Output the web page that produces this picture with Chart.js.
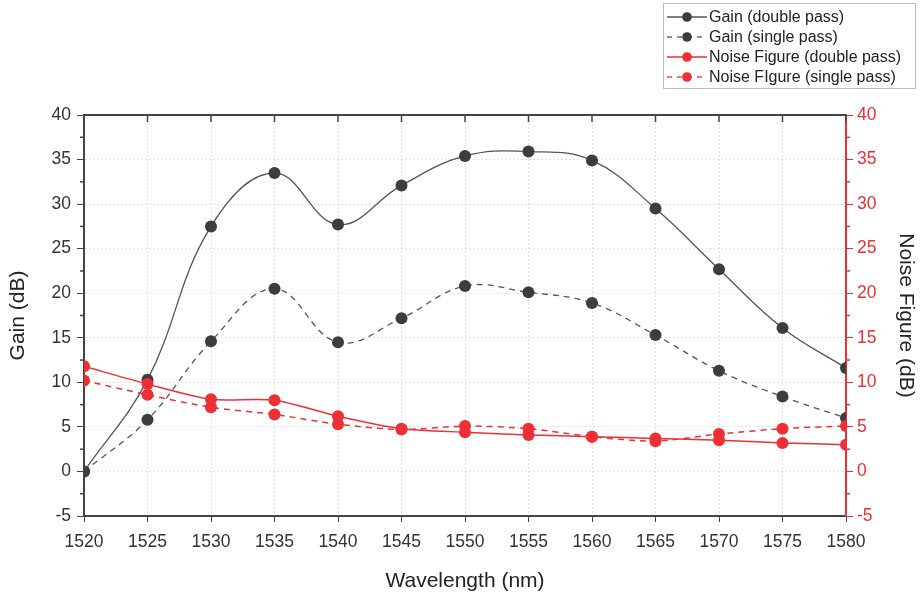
<!DOCTYPE html>
<html>
<head>
<meta charset="utf-8">
<script src="https://cdn.jsdelivr.net/npm/chart.js@4.4.0/dist/chart.umd.min.js"></script>
<style>
  html, body { margin: 0; padding: 0; background: #fff; }
  #wrap { width: 920px; height: 598px; }
</style>
</head>
<body>
<div id="wrap"><canvas id="c" width="920" height="598"></canvas></div>
<script>
// wavelength (nm)
const wavelengths = [1520, 1525, 1530, 1535, 1540, 1545, 1550, 1555, 1560, 1565, 1570, 1575, 1580];
// values (dB)
const gainDouble = [0, 10.3, 27.5, 33.5, 27.7, 32.1, 35.4, 35.9, 34.9, 29.5, 22.7, 16.1, 11.6];
const gainSingle = [0, 5.8, 14.6, 20.5, 14.5, 17.2, 20.8, 20.1, 18.9, 15.3, 11.3, 8.4, 6.0];
const nfDouble = [11.8, 9.8, 8.1, 8.0, 6.2, 4.8, 4.4, 4.1, 3.9, 3.7, 3.5, 3.2, 3.0];
const nfSingle = [10.2, 8.6, 7.2, 6.4, 5.3, 4.7, 5.1, 4.8, 3.9, 3.4, 4.2, 4.8, 5.1];
const legendLabels = ['Gain (double pass)', 'Gain (single pass)', 'Noise Figure (double pass)', 'Noise FIgure (single pass)'];

const GRAY = '#3d3d3d';
const RED = '#ee3035';
const FONT = "'Liberation Sans', Arial, sans-serif";

const toXY = ys => wavelengths.map((w, i) => ({x: w, y: ys[i]}));

// minor ticks, top-axis ticks and the legend box
const decorPlugin = {
    id: 'decor',
    afterDraw: chart => {
        const {ctx, chartArea: a, scales} = chart;
        const x = scales.x, yl = scales.y;
        ctx.save();
        // top axis line + inward ticks
        ctx.strokeStyle = '#444';
        ctx.lineWidth = 2;
        ctx.beginPath();
        ctx.moveTo(a.left, a.top);
        ctx.lineTo(a.right, a.top);
        ctx.stroke();
        ctx.lineWidth = 1.5;
        x.ticks.forEach(t => {
            const px = x.getPixelForValue(t.value);
            ctx.beginPath();
            ctx.moveTo(px, a.top);
            ctx.lineTo(px, a.top + 7);
            ctx.stroke();
        });
        // minor ticks on the y axes
        for (let v = -2.5; v < 40; v += 5) {
            const pl = yl.getPixelForValue(v);
            ctx.strokeStyle = '#444';
            ctx.beginPath();
            ctx.moveTo(a.left, pl);
            ctx.lineTo(a.left - 4, pl);
            ctx.stroke();
            ctx.strokeStyle = RED;
            ctx.beginPath();
            ctx.moveTo(a.right, pl);
            ctx.lineTo(a.right + 4, pl);
            ctx.stroke();
        }
        // legend
        const lx = 663, ly = 3, lw = 252, lh = 85;
        ctx.fillStyle = '#fff';
        ctx.fillRect(lx, ly, lw, lh);
        ctx.strokeStyle = '#bbb';
        ctx.lineWidth = 1;
        ctx.strokeRect(lx + 0.5, ly + 0.5, lw, lh);
        const styles = [
            {c: GRAY, lc: '#555', dash: []},
            {c: GRAY, lc: '#555', dash: [5, 5]},
            {c: RED, lc: RED, dash: []},
            {c: RED, lc: RED, dash: [5, 5]},
        ];
        ctx.font = '16px ' + FONT;
        ctx.textBaseline = 'middle';
        styles.forEach((s, i) => {
            const ry = 17 + i * 20;
            ctx.strokeStyle = s.lc;
            ctx.lineWidth = 1.3;
            ctx.setLineDash(s.dash);
            ctx.beginPath();
            ctx.moveTo(667, ry);
            ctx.lineTo(707, ry);
            ctx.stroke();
            ctx.setLineDash([]);
            ctx.fillStyle = s.c;
            ctx.beginPath();
            ctx.arc(687, ry, 4.8, 0, Math.PI * 2);
            ctx.fill();
            ctx.fillStyle = '#222';
            ctx.fillText(legendLabels[i], 709, ry + 1);
        });
        ctx.restore();
    }
};

const tickFont = {family: FONT, size: 17.5};
const titleFont = {family: FONT, size: 21};

new Chart(document.getElementById('c').getContext('2d'), {
    type: 'line',
    data: {
        datasets: [
            {label: legendLabels[0], data: toXY(gainDouble), borderColor: '#555', backgroundColor: GRAY,
             borderWidth: 1.3, tension: 0.4, pointRadius: 6, pointBorderWidth: 0, yAxisID: 'y', order: 2},
            {label: legendLabels[1], data: toXY(gainSingle), borderColor: '#555', backgroundColor: GRAY,
             borderWidth: 1.3, borderDash: [6, 5], tension: 0.4, pointRadius: 6, pointBorderWidth: 0, yAxisID: 'y', order: 2},
            {label: legendLabels[2], data: toXY(nfDouble), borderColor: RED, backgroundColor: RED,
             borderWidth: 1.5, tension: 0.25, pointRadius: 6, pointBorderWidth: 0, yAxisID: 'y2', order: 1},
            {label: legendLabels[3], data: toXY(nfSingle), borderColor: RED, backgroundColor: RED,
             borderWidth: 1.5, borderDash: [6, 5], tension: 0.25, pointRadius: 6, pointBorderWidth: 0, yAxisID: 'y2', order: 1},
        ]
    },
    options: {
        responsive: false,
        animation: false,
        events: [],
        layout: {padding: {top: 115, left: 0, right: 0, bottom: 0}},
        plugins: {legend: {display: false}, tooltip: {enabled: false}},
        scales: {
            x: {
                type: 'linear', min: 1520, max: 1580,
                ticks: {stepSize: 5, color: '#333', font: tickFont, padding: 10, maxRotation: 0,
                        callback: v => String(v)},
                grid: {color: '#e2e2e2', tickColor: '#444', tickLength: 6, lineWidth: 1},
                border: {color: '#444', width: 2, dash: [2, 2]},
                title: {display: true, text: 'Wavelength (nm)', color: '#222', font: titleFont, padding: {top: 4}},
                afterFit: s => { s.height = 82; }
            },
            y: {
                position: 'left', min: -5, max: 40,
                ticks: {stepSize: 5, color: '#333', font: tickFont, padding: 6},
                grid: {color: '#e2e2e2', tickColor: '#444', tickLength: 7, lineWidth: 1},
                border: {color: '#444', width: 2, dash: [2, 2]},
                title: {display: true, text: 'Gain (dB)', color: '#222', font: titleFont, padding: {top: 6, bottom: 2}},
                afterFit: s => { s.width = 84; }
            },
            y2: {
                position: 'right', min: -5, max: 40,
                ticks: {stepSize: 5, color: RED, font: tickFont, padding: 4},
                grid: {drawOnChartArea: false, tickColor: RED, tickLength: 7},
                border: {color: RED, width: 2},
                title: {display: true, text: 'Noise Figure (dB)', color: '#222', font: titleFont, padding: {top: 2}},
                afterFit: s => { s.width = 74; }
            }
        }
    },
    plugins: [decorPlugin]
});
</script>
</body>
</html>
